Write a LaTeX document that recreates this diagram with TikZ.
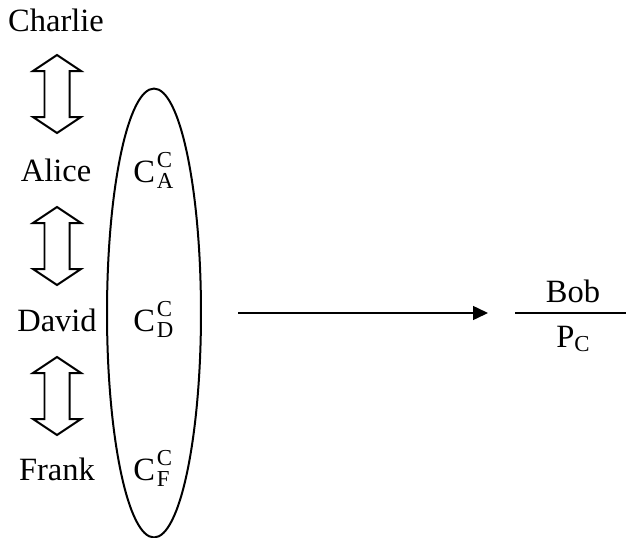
\documentclass[tikz,border=0pt]{standalone}
\usepackage{fontspec}
\setmainfont{Liberation Serif}
\usetikzlibrary{arrows.meta,shapes.geometric}

% small letters set beside a capital
\newcommand{\smallfont}{\fontsize{13}{13}\selectfont}
\newcommand{\keyof}[1]{C\kern1pt\rlap{\raisebox{8pt}{\smallfont C}}\raisebox{-3.6pt}{\smallfont #1}}

% hollow up-down arrow between two names
\tikzset{
  updown/.pic={
    \draw [line width=0.04cm] (0,-39) -- (24,-23) -- (12.5,-23) -- (12.5,23) -- (24,23)
      -- (0,39) -- (-24,23) -- (-12.5,23) -- (-12.5,-23) -- (-24,-23) -- cycle;
  },
  label text/.style={anchor=base, inner sep=0pt, font=\fontsize{18.5}{22}\selectfont},
}

\begin{document}
\begin{tikzpicture}[x=0.02cm, y=-0.02cm]
  \useasboundingbox (0,0) rectangle (626,538);

  % names on the left
  \node [label text] (charlie) at (56,31) {Charlie};
  \node [label text] (alice) at (56,181) {Alice};
  \node [label text] (david) at (57,331) {David};
  \node [label text] (frank) at (57,480) {Frank};

  % up-down arrows
  \pic at (57,94) {updown};
  \pic at (57,246) {updown};
  \pic at (57,396) {updown};

  % group of keys
  \node [draw, line width=0.04cm, ellipse, minimum width=1.88cm,
         minimum height=8.98cm, inner sep=0pt] (group) at (154,313) {};
  \node [label text, anchor=base west] (ca) at (133,182) {\keyof{A}};
  \node [label text, anchor=base west] (cd) at (133,331) {\keyof{D}};
  \node [label text, anchor=base west] (cf) at (133,480) {\keyof{F}};

  % Bob over P_C
  \node [label text] (bob) at (573,302) {Bob};
  \node [label text] (pc) at (573,347) {P\raisebox{-2.3pt}{\smallfont C}};
  \coordinate (barl) at (515,313);
  \coordinate (barr) at (626,313);
  \draw [line width=0.04cm] (barl) -- (barr);

  % send
  \coordinate (send) at (238,313);
  \coordinate (recv) at (488,313);
  \draw [line width=0.03cm, -{Triangle[length=0.3cm, width=0.28cm]}] (send) -- (recv);
\end{tikzpicture}
\end{document}
